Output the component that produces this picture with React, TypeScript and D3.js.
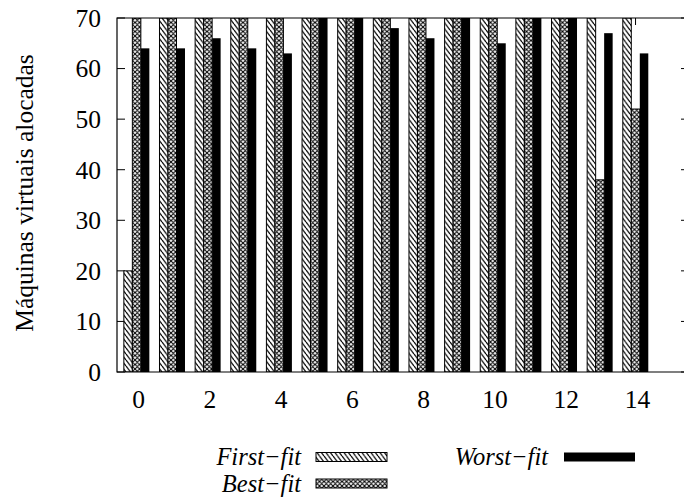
import React from "react";
import * as d3 from "d3";

const categories = [0, 1, 2, 3, 4, 5, 6, 7, 8, 9, 10, 11, 12, 13, 14];
const firstFit = [20, 70, 70, 70, 70, 70, 70, 70, 70, 70, 70, 70, 70, 70, 70];
const bestFit = [70, 70, 70, 70, 70, 70, 70, 70, 70, 70, 70, 70, 70, 38, 52];
const worstFit = [64, 64, 66, 64, 63, 70, 70, 68, 66, 70, 65, 70, 70, 67, 63];
const seriesNames = ["First\u2212fit", "Best\u2212fit", "Worst\u2212fit"];
const yTicks = [0, 10, 20, 30, 40, 50, 60, 70];
const xTickLabels = [0, 2, 4, 6, 8, 10, 12, 14];
const yTitle = "Máquinas virtuais alocadas";

const W = 684;
const H = 504;
const L = 117;
const R = 689;
const T = 18;
const B = 372;
const FONT = "Liberation Serif, Times New Roman, Times, Nimbus Roman, serif";
const FS = 25.5;

export default function App() {
  const x = d3.scaleLinear().domain([-0.55, 15.5]).range([L, R]);
  const y = d3.scaleLinear().domain([0, 70]).range([B, T]);
  const bw = 8.5;
  const series = [firstFit, bestFit, worstFit];
  const fills = ["url(#pFirst)", "url(#pBest)", "#000"];

  return (
    <svg
      width={W}
      height={H}
      style={{ position: "absolute", left: 0, top: 0, background: "#fff", fontFamily: FONT }}
    >
      <defs>
        <pattern id="pFirst" patternUnits="userSpaceOnUse" width={4.5} height={6}>
          <rect width={4.5} height={6} fill="#fff" />
          <line x1={0} y1={0} x2={4.5} y2={6} stroke="#000" strokeWidth={1.2} />
          <line x1={-4.5} y1={0} x2={0} y2={6} stroke="#000" strokeWidth={1.2} />
          <line x1={4.5} y1={0} x2={9} y2={6} stroke="#000" strokeWidth={1.2} />
        </pattern>
        <pattern id="pBest" patternUnits="userSpaceOnUse" width={4.5} height={4.5}>
          <rect width={4.5} height={4.5} fill="#fff" />
          <path d="M-1,-1 L5.5,5.5 M-1,5.5 L5.5,-1 M3.5,-1 L5.5,1 M-1,3.5 L1,5.5 M-1,1 L1,-1 M3.5,5.5 L5.5,3.5" stroke="#000" strokeWidth={1.1} />
        </pattern>
        <clipPath id="plotClip">
          <rect x={L} y={T} width={R - L} height={B - T} />
        </clipPath>
      </defs>
      <rect width={W} height={H} fill="#fff" />

      {xTickLabels.map((v) => (
        <g key={"xt" + v}>
          <line x1={x(v)} x2={x(v)} y1={B} y2={B - 7} stroke="#000" strokeWidth={1} />
          <line x1={x(v)} x2={x(v)} y1={T} y2={T + 7} stroke="#000" strokeWidth={1} />
        </g>
      ))}
      {yTicks.map((v) => (
        <g key={"yt" + v}>
          <line x1={L} x2={L + 8} y1={y(v)} y2={y(v)} stroke="#000" strokeWidth={1} />
          <line x1={R} x2={R - 8} y1={y(v)} y2={y(v)} stroke="#000" strokeWidth={1} />
        </g>
      ))}

      <g clipPath="url(#plotClip)">
        {series.map((vals, k) =>
          categories.map((c, i) => {
            const x0 = x(c) + (k - 1) * bw - bw / 2;
            return (
              <rect
                key={k + "-" + i}
                x={x0}
                y={y(vals[i])}
                width={bw}
                height={B - y(vals[i])}
                fill={fills[k]}
                stroke="#000"
                strokeWidth={k === 2 ? 0 : 1}
              />
            );
          })
        )}
      </g>

      <path d={`M${R},${T} L${L},${T} L${L},${B} L${R},${B}`} fill="none" stroke="#000" strokeWidth={1.2} />

      {yTicks.map((v) => (
        <text key={"yl" + v} x={101} y={y(v)} dy="0.35em" textAnchor="end" fontSize={FS}>
          {v}
        </text>
      ))}
      {xTickLabels.map((v) => (
        <text key={"xl" + v} x={x(v) + 2} y={408} textAnchor="middle" fontSize={FS}>
          {v}
        </text>
      ))}
      <text
        transform={`translate(33,193) rotate(-90)`}
        textAnchor="middle"
        fontSize={FS}
      >
        {yTitle}
      </text>

      <g fontStyle="italic" fontSize={24.5}>
        <text x={301} y={465} textAnchor="end">{seriesNames[0]}</text>
        <rect x={316} y={452.5} width={71} height={9} fill="url(#pFirst)" stroke="#000" strokeWidth={1} />
        <text x={301} y={492} textAnchor="end">{seriesNames[1]}</text>
        <rect x={316} y={479} width={71} height={9} fill="url(#pBest)" stroke="#000" strokeWidth={1} />
        <text x={548} y={465} textAnchor="end">{seriesNames[2]}</text>
        <rect x={564} y={452.5} width={71} height={9} fill="#000" />
      </g>
    </svg>
  );
}
